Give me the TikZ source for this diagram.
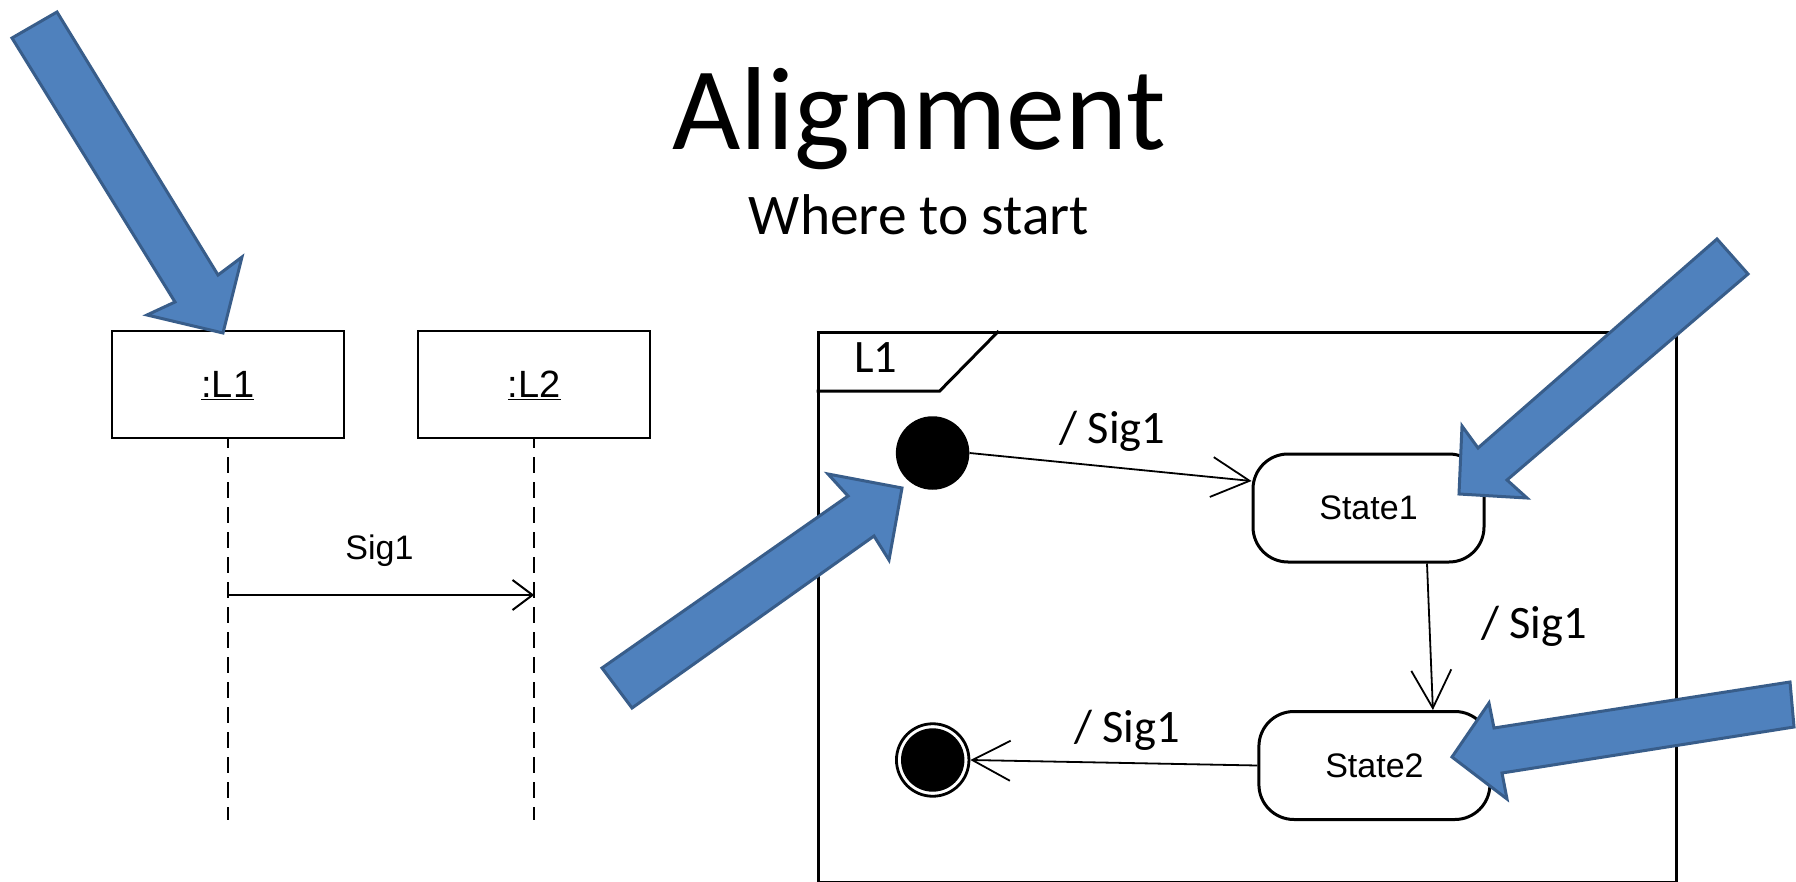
\documentclass[tikz,border=0pt]{standalone}
\usepackage{fontspec}
\newfontfamily\calib{Carlito}
\newfontfamily\arial{Liberation Sans}
\usetikzlibrary{arrows.meta}
\definecolor{arrowfill}{HTML}{4F81BD}
\definecolor{arrowline}{HTML}{385D8A}

\begin{document}
\begin{tikzpicture}[x=1pt,y=-1pt,
  bluearrow/.style={fill=arrowfill, draw=arrowline, line width=3pt, line join=miter},
  lifebox/.style={draw, line width=2.2pt, minimum width=232pt, minimum height=107pt,
    inner sep=0pt, text depth=0pt, font=\arial\fontsize{38}{44}\selectfont},
  lifeline/.style={line width=2pt, dash pattern=on 16pt off 9pt, dash phase=7pt},
  msg/.style={line width=2pt, -{Straight Barb[length=20pt,width=30pt]}},
  msglabel/.style={anchor=base, inner sep=0pt, font=\arial\fontsize{34}{40}\selectfont},
  frameline/.style={line width=3pt},
  statebox/.style={draw, rounded corners=35pt, line width=3pt, minimum width=231pt,
    minimum height=108pt, inner sep=0pt, text depth=0pt, font=\arial\fontsize{34}{40}\selectfont},
  trans/.style={line width=1.8pt, -{Straight Barb[length=38pt,width=40pt]}},
  translabel/.style={anchor=base, inner sep=0pt, font=\calib\fontsize{46.5}{56}\selectfont},
]
\fill[white] (0,0) rectangle (1796,882);
\useasboundingbox (0,0) rectangle (1796,882);

% heading
\node[anchor=base, inner sep=0pt, font=\calib\fontsize{118}{140}\selectfont] (title) at (919,150) {Alignment};
\node[anchor=base, inner sep=0pt, font=\calib\fontsize{57.5}{69}\selectfont] (subtitle) at (919,235) {Where to start};

% sequence diagram
\node[lifebox] (L1) at (227.8,384.5) {\underline{:L1}};
\node[lifebox] (L2) at (534.2,384.5) {\underline{:L2}};
\coordinate (L1end) at (227.8,820);
\coordinate (L2end) at (534.2,820);
\draw[lifeline] (L1.south) -- (L1end);
\draw[lifeline] (L2.south) -- (L2end);
\coordinate (send) at (227.8,595);
\coordinate (recv) at (534.2,595);
\draw[msg] (send) -- (recv);
\node[msglabel] (msgtext) at (379.5,559) {Sig1};

% state machine frame
\node[draw, frameline, anchor=north west, minimum width=858.5pt, minimum height=550pt, inner sep=0pt] (frame) at (816.5,331) {};
\draw[frameline] ([yshift=-60pt]frame.north west) -- ++(123.2,0) -- ([xshift=182.2pt]frame.north west);
\node[translabel] (frametag) at (876,373) {L1};

% states
\node[circle, fill, minimum size=73.5pt, inner sep=0pt] (init) at (932.6,453) {};
\node[statebox] (S1) at (1368.5,508) {State1};
\node[statebox] (S2) at (1374.4,765.5) {State2};
\node[circle, draw, line width=2.8pt, minimum size=72.5pt, inner sep=0pt] (fin) at (932.7,760) {};
\node[circle, fill, minimum size=63.4pt, inner sep=0pt] (findot) at (fin.center) {};

% transitions
\draw[trans] (init.east) -- ([yshift=27pt]S1.west);
\draw[trans] ([xshift=58.5pt]S1.south) -- ([xshift=58.5pt]S2.north);
\draw[trans] (S2.west) -- (fin.east);
\node[translabel] (t1) at (1112.5,443) {/ Sig1};
\node[translabel] (t2) at (1534,638) {/ Sig1};
\node[translabel] (t3) at (1127,742.7) {/ Sig1};

% block arrows
\draw[bluearrow] (12,38) -- (57,12) -- (218,275) -- (242,257) -- (223,333) -- (147,315) -- (175,302) -- cycle;
\draw[bluearrow] (602,668) -- (848,496) -- (828,474) -- (902,488) -- (889,560) -- (874,536) -- (632,708) -- cycle;
\draw[bluearrow] (1717,239) -- (1478,448) -- (1462,426) -- (1459,494) -- (1527,498) -- (1507,480) -- (1748,274) -- cycle;
\draw[bluearrow] (1790,682) -- (1494,728) -- (1489,703) -- (1452,757) -- (1507,799) -- (1502,773) -- (1794,727) -- cycle;
\end{tikzpicture}
\end{document}
